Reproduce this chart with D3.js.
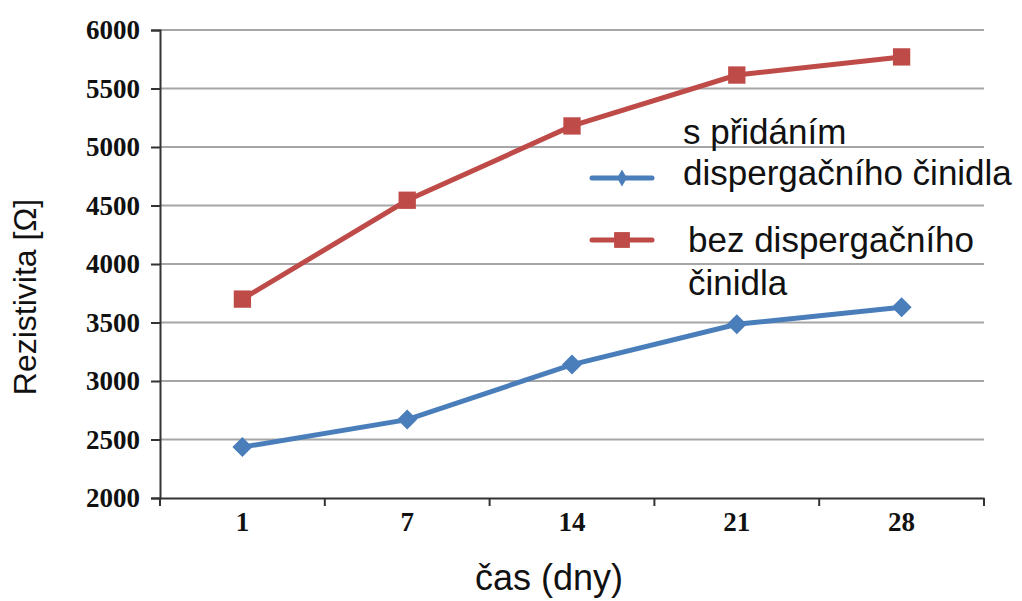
<!DOCTYPE html>
<html>
<head>
<meta charset="utf-8">
<script src="https://cdn.jsdelivr.net/npm/d3@7"></script>
<style>
  body { margin: 0; background: #fff; }
  svg { display: block; }
</style>
</head>
<body>
<svg id="plot" width="1022" height="601"></svg>
<script>
// data
var days = ["1", "7", "14", "21", "28"];
var withAgent = [2435, 2670, 3140, 3485, 3630];      // s přidáním dispergačního činidla
var withoutAgent = [3700, 4545, 5180, 5615, 5770];   // bez dispergačního činidla
var yTicks = [2000, 2500, 3000, 3500, 4000, 4500, 5000, 5500, 6000];

var svg = d3.select("#plot"),
    margin = {top: 30, right: 38, bottom: 103, left: 160},
    width = +svg.attr("width") - margin.left - margin.right,
    height = +svg.attr("height") - margin.top - margin.bottom;

var blue = "#4a7ebb", red = "#be4b48";

var x = d3.scaleBand().domain(days).range([0, width]).padding(0),
    y = d3.scaleLinear().domain([2000, 6000]).range([height, 0]);

var g = svg.append("g")
    .attr("transform", "translate(" + margin.left + "," + margin.top + ")");

// horizontal gridlines
g.append("g").selectAll("line")
    .data(yTicks.slice(1))
    .enter().append("line")
    .attr("x1", 0).attr("x2", width)
    .attr("y1", function(d) { return y(d); })
    .attr("y2", function(d) { return y(d); })
    .attr("stroke", "#a6a6a6")
    .attr("stroke-width", 1.8);

var tickFont = "'Liberation Serif', 'Times New Roman', serif";

// y axis
var yAxis = g.append("g")
    .call(d3.axisLeft(y).tickValues(yTicks).tickSize(9).tickPadding(11).tickFormat(d3.format("d")));
yAxis.selectAll("text")
    .style("font-family", tickFont)
    .style("font-weight", "bold")
    .style("font-size", "27px")
    .attr("fill", "#111");

// x axis: labels centred in bands, ticks on band edges
var xAxis = g.append("g")
    .attr("transform", "translate(0," + height + ")")
    .call(d3.axisBottom(x).tickSize(0).tickPadding(14));
xAxis.selectAll("text")
    .style("font-family", tickFont)
    .style("font-weight", "bold")
    .style("font-size", "27px")
    .attr("fill", "#111");
xAxis.selectAll(".edge")
    .data(days.concat(["end"]))
    .enter().append("line")
    .attr("class", "edge")
    .attr("x1", function(d, i) { return i * x.bandwidth(); })
    .attr("x2", function(d, i) { return i * x.bandwidth(); })
    .attr("y1", 0).attr("y2", 8);

svg.selectAll(".domain, .tick line, .edge")
    .attr("stroke", "#333")
    .attr("stroke-width", 2);

// series
var line = d3.line()
    .x(function(d, i) { return x(days[i]) + x.bandwidth() / 2; })
    .y(function(d) { return y(d); });

var series = [
    {name: "without", values: withoutAgent, color: red, size: 300, rot: 0},
    {name: "with", values: withAgent, color: blue, size: 200, rot: 45}
];

series.forEach(function(s) {
    g.append("path")
        .datum(s.values)
        .attr("fill", "none")
        .attr("stroke", s.color)
        .attr("stroke-width", 5)
        .attr("d", line);
    g.append("g").selectAll("path")
        .data(s.values)
        .enter().append("path")
        .attr("d", d3.symbol().type(d3.symbolSquare).size(s.size))
        .attr("fill", s.color)
        .attr("transform", function(d, i) {
            return "translate(" + (x(days[i]) + x.bandwidth() / 2) + "," + y(d) + ") rotate(" + s.rot + ")";
        });
});

// legend
var legendFont = "'Liberation Sans', Arial, sans-serif";
var legend = svg.append("g").attr("transform", "translate(592,0)");
var legendItems = [
    {lines: ["s přidáním", "dispergačního činidla"], color: blue, symbol: d3.symbolDiamond, size: 85, ly: 178, tx: 91, ty: [144, 185]},
    {lines: ["bez dispergačního", "činidla"], color: red, symbol: d3.symbolSquare, size: 250, ly: 240, tx: 96, ty: [252, 295]}
];
legendItems.forEach(function(it) {
    legend.append("line")
        .attr("x1", 0).attr("x2", 60)
        .attr("y1", it.ly).attr("y2", it.ly)
        .attr("stroke", it.color)
        .attr("stroke-width", 5)
        .attr("stroke-linecap", "round");
    legend.append("path")
        .attr("d", d3.symbol().type(it.symbol).size(it.size))
        .attr("fill", it.color)
        .attr("transform", "translate(30," + it.ly + ")");
    it.lines.forEach(function(t, i) {
        legend.append("text")
            .attr("x", it.tx).attr("y", it.ty[i])
            .style("font-family", legendFont)
            .style("font-size", "35px")
            .attr("fill", "#111")
            .text(t);
    });
});

// axis titles
svg.append("text")
    .attr("transform", "translate(36,297) rotate(-90)")
    .attr("text-anchor", "middle")
    .style("font-family", legendFont)
    .style("font-size", "32px")
    .attr("fill", "#111")
    .text("Rezistivita [Ω]");

svg.append("text")
    .attr("x", 549).attr("y", 590)
    .attr("text-anchor", "middle")
    .style("font-family", legendFont)
    .style("font-size", "36px")
    .attr("fill", "#111")
    .text("čas (dny)");
</script>
</body>
</html>
